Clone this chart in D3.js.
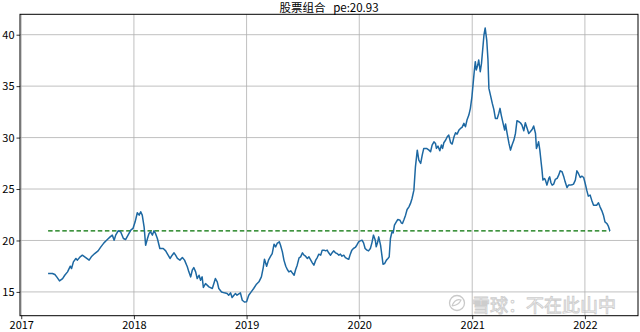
<!DOCTYPE html>
<html>
<head>
<meta charset="utf-8">
<script src="https://cdn.jsdelivr.net/npm/d3@7"></script>
<style>
  body { margin: 0; background: #fff; }
  svg { display: block; font-family: "Noto Sans CJK SC", "DejaVu Sans", sans-serif; }
</style>
</head>
<body>
<div id="chart"></div>
<script>
// portfolio pe, weekly-ish points
const dates = [
  "2017-03-29","2017-04-12","2017-04-20","2017-04-26","2017-05-05","2017-05-15","2017-05-22","2017-05-31",
  "2017-06-09","2017-06-13","2017-06-19","2017-06-27","2017-07-02","2017-07-11","2017-07-18","2017-07-29",
  "2017-08-09","2017-08-16","2017-08-27","2017-09-07","2017-09-16","2017-09-26","2017-10-07","2017-10-16",
  "2017-10-23","2017-10-29","2017-11-03","2017-11-11","2017-11-19","2017-11-28","2017-12-05","2017-12-13",
  "2017-12-22","2017-12-29","2018-01-05","2018-01-12","2018-01-18","2018-01-23","2018-01-28","2018-02-03",
  "2018-02-08","2018-02-14","2018-02-19","2018-02-24","2018-03-02","2018-03-07","2018-03-12","2018-03-18",
  "2018-03-26","2018-04-06","2018-04-14","2018-04-19","2018-04-28","2018-05-05","2018-05-11","2018-05-16",
  "2018-05-22","2018-05-30","2018-06-07","2018-06-14","2018-06-23","2018-06-28","2018-07-04","2018-07-09",
  "2018-07-14","2018-07-20","2018-07-25","2018-07-31","2018-08-05","2018-08-10","2018-08-14","2018-08-21",
  "2018-09-01","2018-09-12","2018-09-17","2018-09-22","2018-09-28","2018-10-03","2018-10-12","2018-10-21",
  "2018-10-30","2018-11-04","2018-11-10","2018-11-15","2018-11-21","2018-11-26","2018-12-01","2018-12-12",
  "2018-12-18","2018-12-25","2019-01-01","2019-01-08","2019-01-16","2019-01-24","2019-02-02","2019-02-10",
  "2019-02-18","2019-02-24","2019-02-28","2019-03-07","2019-03-13","2019-03-20","2019-03-25","2019-03-31",
  "2019-04-05","2019-04-10","2019-04-17","2019-04-21","2019-04-27","2019-05-02","2019-05-08","2019-05-13",
  "2019-05-18","2019-05-24","2019-05-29","2019-06-04","2019-06-09","2019-06-14","2019-06-20","2019-06-25",
  "2019-07-01","2019-07-06","2019-07-11","2019-07-17","2019-07-22","2019-07-28","2019-08-02","2019-08-07",
  "2019-08-13","2019-08-18","2019-08-23","2019-08-29","2019-09-03","2019-09-09","2019-09-14","2019-09-19",
  "2019-09-24","2019-09-30","2019-10-05","2019-10-10","2019-10-16","2019-10-21","2019-10-27","2019-11-01",
  "2019-11-06","2019-11-12","2019-11-17","2019-11-22","2019-11-28","2019-12-03","2019-12-08","2019-12-13",
  "2019-12-19","2019-12-24","2019-12-30","2020-01-04","2020-01-10","2020-01-15","2020-01-20","2020-01-26",
  "2020-01-31","2020-02-06","2020-02-11","2020-02-16","2020-02-22","2020-02-25","2020-03-01","2020-03-04",
  "2020-03-10","2020-03-15","2020-03-18","2020-03-23","2020-03-29","2020-04-03","2020-04-07","2020-04-11",
  "2020-04-16","2020-04-20","2020-04-24","2020-04-30","2020-05-05","2020-05-12","2020-05-16","2020-05-20",
  "2020-05-25","2020-05-30","2020-06-04","2020-06-10","2020-06-15","2020-06-20","2020-06-26","2020-07-01",
  "2020-07-07","2020-07-12","2020-07-18","2020-07-23","2020-07-28","2020-08-06","2020-08-14","2020-08-19",
  "2020-08-24","2020-08-30","2020-09-04","2020-09-07","2020-09-12","2020-09-18","2020-09-23","2020-09-27",
  "2020-10-01","2020-10-07","2020-10-12","2020-10-17","2020-10-23","2020-10-28","2020-11-03","2020-11-08",
  "2020-11-13","2020-11-19","2020-11-24","2020-11-29","2020-12-05","2020-12-10","2020-12-15","2020-12-21",
  "2020-12-26","2020-12-31","2021-01-04","2021-01-08","2021-01-11","2021-01-14","2021-01-19","2021-01-22",
  "2021-01-27","2021-01-31","2021-02-08","2021-02-12","2021-02-17","2021-02-21","2021-02-24","2021-03-01",
  "2021-03-07","2021-03-12","2021-03-17","2021-03-23","2021-03-28","2021-04-01","2021-04-05","2021-04-11",
  "2021-04-16","2021-04-19","2021-04-24","2021-04-30","2021-05-05","2021-05-10","2021-05-16","2021-05-21",
  "2021-05-26","2021-06-01","2021-06-06","2021-06-11","2021-06-17","2021-06-22","2021-06-28","2021-07-03",
  "2021-07-08","2021-07-14","2021-07-19","2021-07-25","2021-07-28","2021-08-01","2021-08-04","2021-08-08",
  "2021-08-12","2021-08-15","2021-08-18","2021-08-23","2021-08-26","2021-08-31","2021-09-06","2021-09-09",
  "2021-09-13","2021-09-17","2021-09-22","2021-09-27","2021-10-03","2021-10-08","2021-10-13","2021-10-19",
  "2021-10-24","2021-10-29","2021-11-04","2021-11-09","2021-11-15","2021-11-20","2021-11-25","2021-12-01",
  "2021-12-06","2021-12-11","2021-12-17","2021-12-22","2021-12-28","2022-01-02","2022-01-07","2022-01-12",
  "2022-01-18","2022-01-23","2022-01-29","2022-02-03","2022-02-08","2022-02-14","2022-02-19","2022-02-25",
  "2022-03-02","2022-03-07","2022-03-13","2022-03-18","2022-03-23"
];
const pe = [
  16.79,16.79,16.69,16.46,16.07,16.30,16.62,16.95,
  17.50,17.27,17.92,18.25,18.09,18.41,18.57,18.34,
  18.09,18.41,18.73,18.99,19.38,19.77,20.09,20.35,
  20.52,20.03,20.52,20.94,20.84,20.19,20.09,20.52,
  21.00,21.17,21.81,22.69,22.46,22.79,22.46,21.33,
  19.54,20.19,20.68,20.84,20.52,20.94,20.68,20.19,
  19.22,19.22,18.99,18.73,18.25,18.57,18.80,18.57,
  18.25,18.09,18.34,18.09,17.44,16.95,16.46,17.11,
  17.37,16.95,16.30,16.62,16.14,16.46,15.43,15.81,
  15.49,15.33,15.81,16.30,15.98,15.33,15.00,14.91,
  14.84,14.68,14.91,14.45,14.68,14.84,14.68,14.91,
  14.19,14.02,14.05,14.68,15.00,15.33,15.75,15.98,
  16.46,17.37,18.18,17.50,18.09,18.47,18.73,19.64,
  19.38,19.71,19.87,19.54,18.89,18.09,17.50,17.18,
  16.95,17.05,16.85,16.62,17.18,17.60,18.31,18.41,
  18.80,18.57,18.47,18.25,18.41,18.09,17.83,17.60,
  18.09,18.34,18.67,18.57,19.06,19.06,18.99,19.06,
  18.80,18.57,18.80,18.99,18.80,18.73,18.57,18.67,
  18.47,18.57,18.34,18.25,18.18,18.67,19.06,19.22,
  19.32,19.54,19.87,19.96,20.03,19.77,19.22,19.06,
  18.99,19.22,19.77,20.52,20.03,19.38,19.87,20.35,
  19.54,18.41,17.69,17.76,18.09,18.25,18.41,20.19,
  20.84,20.74,21.49,21.81,22.04,21.97,21.72,21.65,
  22.04,22.46,23.01,23.27,23.60,24.08,24.89,27.16,
  28.78,27.81,27.49,28.30,28.95,28.95,28.78,28.62,
  29.27,29.59,29.43,28.95,29.17,28.72,29.27,28.95,
  29.50,29.76,30.08,30.24,29.50,29.37,30.08,30.47,
  30.34,30.73,30.89,30.99,31.38,31.05,31.70,32.19,
  32.84,33.97,35.27,36.57,37.38,36.57,37.05,37.54,
  36.40,37.21,39.97,40.65,39.48,37.54,34.78,34.13,
  33.32,32.74,31.86,31.86,32.35,32.84,32.19,31.38,
  30.73,31.31,30.41,29.43,28.78,29.27,29.76,30.40,
  31.64,31.54,31.44,31.22,30.66,31.44,30.89,30.40,
  30.57,30.79,31.12,30.40,28.95,29.27,29.59,28.78,
  27.65,26.84,25.87,26.03,25.87,25.38,26.03,26.19,
  25.61,25.38,25.48,25.93,26.03,26.35,26.77,26.68,
  26.25,25.70,25.15,25.38,25.38,25.41,25.48,25.87,
  26.77,26.51,26.12,26.25,26.12,25.54,24.89,24.31,
  24.41,23.92,23.43,23.43,23.43,23.66,23.27,22.88,
  22.46,21.81,21.65,21.39,20.93
];
const peNow = 20.93;
const yTicks = [15, 20, 25, 30, 35, 40];
const title = "股票组合\u00a0\u00a0 pe:20.93";
const watermark = "雪球：不在此山中";

const w = 640, h = 332;
const m = {left: 20, right: 2, top: 14.3, bottom: 16.3};

const parse = d3.timeParse("%Y-%m-%d");
const data = dates.map((d, i) => ({date: parse(d), v: pe[i]}));

const svg = d3.select("#chart").append("svg")
  .attr("width", w).attr("height", h);

// matplotlib-like 5% auto margins
const pad = (lo, hi) => [lo - (hi - lo) * 0.05, hi + (hi - lo) * 0.05];
const xExt = d3.extent(data, d => +d.date);
const yExt = d3.extent(data, d => d.v);
const xp = pad(xExt[0], xExt[1]);

const x = d3.scaleTime()
  .domain([new Date(xp[0]), new Date(xp[1])])
  .range([m.left, w - m.right]);
const y = d3.scaleLinear()
  .domain(pad(yExt[0], yExt[1]))
  .range([h - m.bottom, m.top]);

// grid
svg.append("g")
  .selectAll("line.vg").data(x.ticks(d3.timeYear.every(1))).enter().append("line")
  .attr("x1", d => x(d)).attr("x2", d => x(d))
  .attr("y1", m.top).attr("y2", h - m.bottom)
  .attr("stroke", "#b0b0b0").attr("stroke-width", 0.8);
svg.append("g")
  .selectAll("line.hg").data(yTicks).enter().append("line")
  .attr("x1", m.left).attr("x2", w - m.right)
  .attr("y1", d => y(d)).attr("y2", d => y(d))
  .attr("stroke", "#b0b0b0").attr("stroke-width", 0.8);

// pe reference line
svg.append("line")
  .attr("x1", x(data[0].date)).attr("x2", x(data[data.length - 1].date))
  .attr("y1", y(peNow)).attr("y2", y(peNow))
  .attr("stroke", "#007000").attr("stroke-width", 1.2)
  .attr("stroke-dasharray", "4.5,2.6");

// series
svg.append("path")
  .datum(data)
  .attr("fill", "none")
  .attr("stroke", "#1d68a2")
  .attr("stroke-width", 1.5)
  .attr("stroke-linejoin", "round")
  .attr("d", d3.line().x(d => x(d.date)).y(d => y(d.v)));

// axes
const xAxis = d3.axisBottom(x).ticks(d3.timeYear.every(1))
  .tickFormat(d3.timeFormat("%Y")).tickSizeInner(3.5).tickSizeOuter(0).tickPadding(2);
const yAxis = d3.axisLeft(y).tickValues(yTicks)
  .tickSizeInner(3.5).tickSizeOuter(0).tickPadding(2);

const gx = svg.append("g")
  .attr("transform", "translate(0," + (h - m.bottom) + ")")
  .call(xAxis);
const gy = svg.append("g")
  .attr("transform", "translate(" + m.left + ",0)")
  .call(yAxis);
[gx, gy].forEach(g => {
  g.select(".domain").remove();
  g.selectAll("text").attr("font-size", 11).attr("fill", "#000")
    .attr("font-family", "'Noto Sans CJK SC', sans-serif");
  g.selectAll("line").attr("stroke", "#000").attr("stroke-width", 0.8);
});

// frame
svg.append("rect")
  .attr("x", m.left).attr("y", m.top)
  .attr("width", w - m.left - m.right).attr("height", h - m.top - m.bottom)
  .attr("fill", "none").attr("stroke", "#000").attr("stroke-width", 1);

// title
svg.append("text")
  .attr("x", (m.left + w - m.right) / 2).attr("y", 12)
  .attr("text-anchor", "middle")
  .attr("font-size", 11.5)
  .text(title);

// watermark
const wm = svg.append("g").attr("opacity", 0.75);
wm.append("circle").attr("cx", 457).attr("cy", 303).attr("r", 7.5)
  .attr("fill", "none").attr("stroke", "#b8b8b8").attr("stroke-width", 1.3);
wm.append("path").attr("d", "M452,306 q3,-8 9,-6 q-2,5 -9,6")
  .attr("fill", "none").attr("stroke", "#b8b8b8").attr("stroke-width", 1.1);
wm.append("text")
  .attr("x", 472).attr("y", 312)
  .attr("font-size", 18)
  .attr("fill", "#fff").attr("fill-opacity", 0.6)
  .attr("stroke", "#bdbdbd").attr("stroke-width", 0.9)
  .text(watermark);
</script>
</body>
</html>
